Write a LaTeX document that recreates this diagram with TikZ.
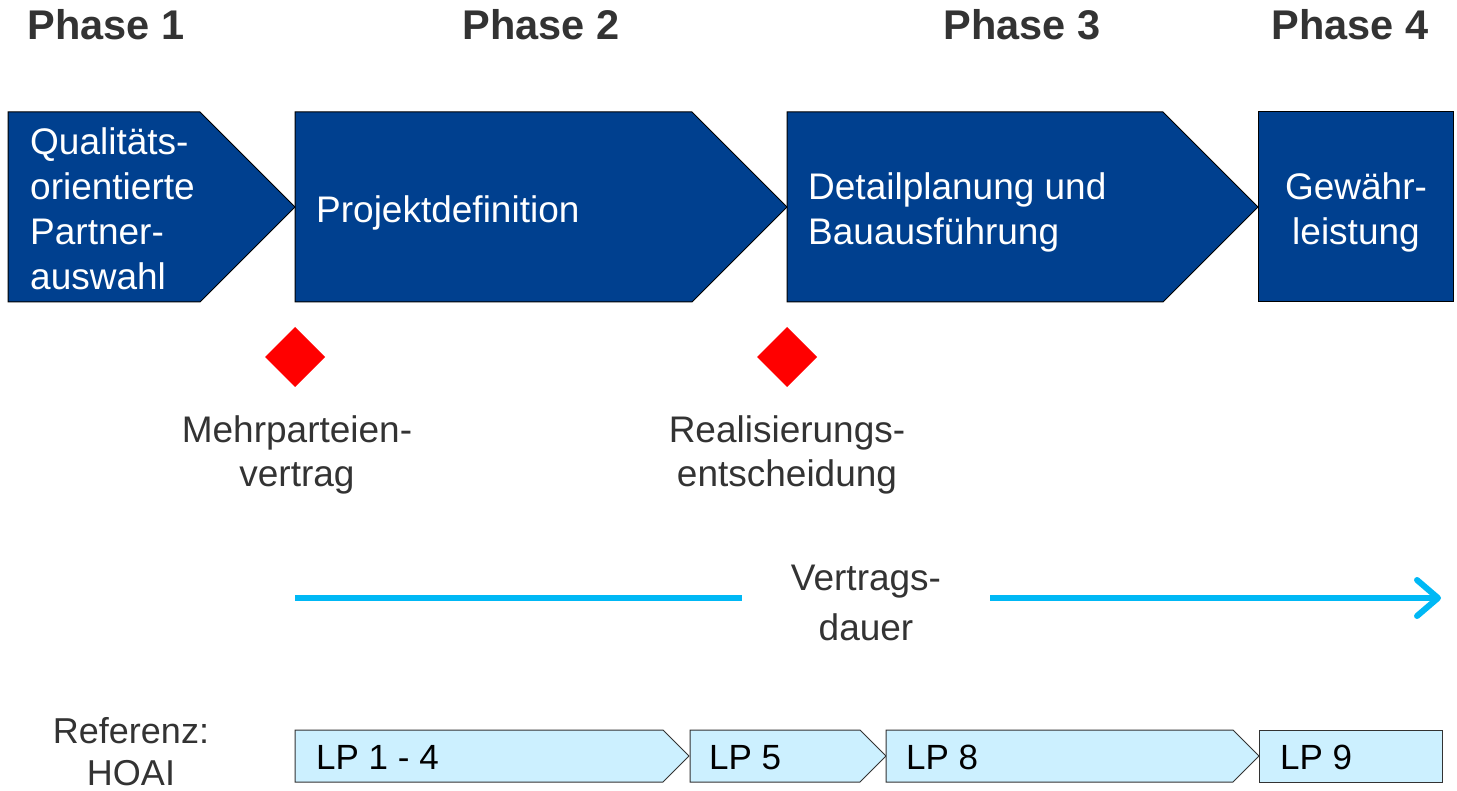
\documentclass[tikz,border=0pt]{standalone}
\usepackage{fontspec}
\setmainfont{Liberation Sans}
\usetikzlibrary{arrows.meta}
\definecolor{phaseblue}{RGB}{0,64,143}
\definecolor{lpfill}{RGB}{204,240,255}
\definecolor{darktext}{RGB}{51,51,51}
\definecolor{arrowblue}{RGB}{0,184,245}
\definecolor{diamred}{RGB}{255,0,0}
\tikzset{
  phasebox/.style={fill=phaseblue, draw=black, line width=1pt},
  lpbox/.style={fill=lpfill, draw=black!80, line width=1pt},
  phasehead/.style={anchor=base, inner sep=0pt, text=darktext, font=\fontsize{41.5}{48}\selectfont\bfseries},
  boxtext/.style={inner sep=0pt, text=white, font=\fontsize{37}{45}\selectfont},
  labeltext/.style={inner sep=0pt, text=darktext, align=center, font=\fontsize{37}{44}\selectfont},
  lptext/.style={anchor=base west, inner sep=0pt, text=black, font=\fontsize{35}{42}\selectfont},
  milestone/.style={fill=diamred, draw=none},
  durline/.style={draw=arrowblue, line width=6pt},
  barb/.style={draw=arrowblue, line width=6pt, line cap=round, line join=round}
}
\begin{document}
\begin{tikzpicture}[x=1pt, y=-1pt]
\useasboundingbox (0,0) rectangle (1457,791);
% phase headers
\node[phasehead] (h1) at (106,40) {Phase 1};
\node[phasehead] (h2) at (541,40) {Phase 2};
\node[phasehead] (h3) at (1022,40) {Phase 3};
\node[phasehead] (h4) at (1350,40) {Phase 4};
% phase chevrons
\path[phasebox] (8,112) -- (200,112) -- (295,207) -- (200,302) -- (8,302) -- cycle;
\path[phasebox] (295,112) -- (692,112) -- (787,207) -- (692,302) -- (295,302) -- cycle;
\path[phasebox] (787,112) -- (1163,112) -- (1258,207) -- (1163,302) -- (787,302) -- cycle;
\path[phasebox] (1258,112) rectangle (1453,302);
\node[boxtext, anchor=west, align=left] (p1) at (30,209) {Qualitäts-\\orientierte\\Partner-\\auswahl};
\node[boxtext, anchor=west] (p2) at (316,213) {Projektdefinition};
\node[boxtext, anchor=west, align=left] (p3) at (808,212) {Detailplanung und\\Bauausführung};
\node[boxtext, align=center] (p4) at (1356,212) {Gewähr-\\leistung};
% milestones
\path[milestone] (295,327) -- (325,357) -- (295,387) -- (265,357) -- cycle;
\path[milestone] (787,327) -- (817,357) -- (787,387) -- (757,357) -- cycle;
\node[labeltext] (m1) at (297,455) {Mehrparteien-\\vertrag};
\node[labeltext] (m2) at (787,455) {Realisierungs-\\entscheidung};
% contract duration
\node[labeltext, font=\fontsize{37}{50}\selectfont] (vd) at (866,603) {Vertrags-\\dauer};
\coordinate (a1) at (295,598);
\coordinate (a2) at (742,598);
\coordinate (a3) at (990,598);
\coordinate (a4) at (1438,598);
\draw[durline] (a1) -- (a2);
\draw[durline, shorten >=3pt] (a3) -- (a4);
\draw[barb] (a4) ++(-21,-18) -- (a4) -- ++(-21,18);
% HOAI reference
\node[labeltext, font=\fontsize{36}{42}\selectfont] (ref) at (131,752) {Referenz:\\HOAI};
\path[lpbox] (295,730) -- (663,730) -- (689,756) -- (663,782) -- (295,782) -- cycle;
\path[lpbox] (690,730) -- (860,730) -- (886,756) -- (860,782) -- (690,782) -- cycle;
\path[lpbox] (886,730) -- (1233,730) -- (1259,756) -- (1233,782) -- (886,782) -- cycle;
\path[lpbox] (1259,730) rectangle (1442,782);
\node[lptext] (lp1) at (316,769) {LP 1 - 4};
\node[lptext] (lp2) at (709,769) {LP 5};
\node[lptext] (lp3) at (906,769) {LP 8};
\node[lptext] (lp4) at (1280,769) {LP 9};
\end{tikzpicture}
\end{document}
